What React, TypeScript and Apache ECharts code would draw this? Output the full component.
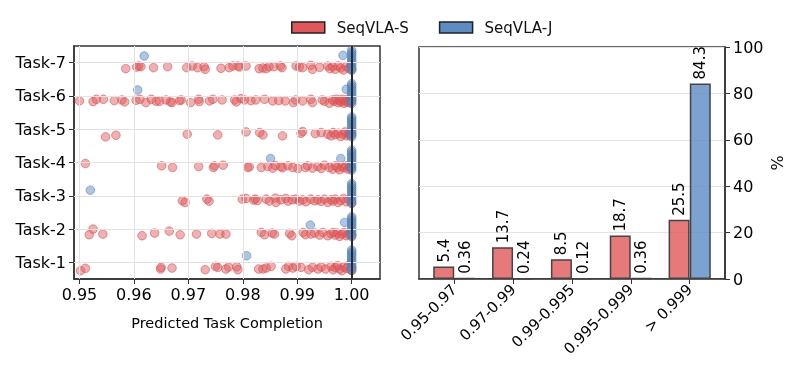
import React, { useEffect, useRef } from "react";
import * as echarts from "echarts";

const TASKS = ["Task-1", "Task-2", "Task-3", "Task-4", "Task-5", "Task-6", "Task-7"];
const X_TICKS = [0.95, 0.96, 0.97, 0.98, 0.99, 1.0];
const TASK_POS = [0, 1, 2, 3, 4, 5, 6];

// SeqVLA-S points per task: [predicted completion, vertical offset from task line]
const S_TASK1: [number, number][] = [[0.9502,-0.25],[0.9511,-0.18],[0.9649,-0.2],[0.965,-0.15],[0.967,-0.17],[0.9731,-0.22],[0.975,-0.12],[0.9754,-0.15],[0.9769,-0.2],[0.9774,-0.14],[0.9789,-0.13],[0.9791,-0.22],[0.9829,-0.2],[0.9837,-0.2],[0.9843,-0.17],[0.9852,-0.12],[0.9879,-0.2],[0.9884,-0.12],[0.9892,-0.17],[0.9898,-0.12],[0.9907,-0.15],[0.9921,-0.22],[0.9928,-0.15],[0.9938,-0.2],[0.9944,-0.14],[0.9952,-0.2],[0.9962,-0.12],[0.9966,-0.22],[0.997,-0.16],[0.9974,-0.1],[0.9978,-0.2],[0.9982,-0.25],[0.9986,-0.14],[0.999,-0.18],[0.9994,-0.1],[0.9998,-0.22],[1.0,-0.15],[1.0,-0.25]];
const S_TASK2: [number, number][] = [[0.9518,-0.17],[0.9525,0],[0.9543,-0.15],[0.9615,-0.2],[0.9638,-0.12],[0.9665,-0.06],[0.9685,-0.17],[0.9715,-0.15],[0.9743,-0.13],[0.9758,-0.15],[0.9769,-0.15],[0.9834,-0.1],[0.984,-0.17],[0.9854,-0.12],[0.9858,-0.15],[0.9886,-0.13],[0.989,-0.2],[0.9911,-0.1],[0.9915,-0.17],[0.9925,-0.15],[0.9932,-0.12],[0.9941,-0.18],[0.9947,-0.1],[0.9956,-0.2],[0.9962,-0.14],[0.9966,-0.1],[0.997,-0.18],[0.9974,-0.12],[0.9978,-0.22],[0.9982,-0.15],[0.9986,-0.1],[0.999,-0.2],[0.9994,-0.16],[0.9998,-0.12],[1.0,-0.2]];
const S_TASK3: [number, number][] = [[0.9689,-0.15],[0.9694,-0.2],[0.9734,-0.1],[0.9738,-0.16],[0.9799,-0.1],[0.9806,-0.08],[0.982,-0.13],[0.9823,-0.1],[0.9827,-0.14],[0.9843,-0.1],[0.9849,-0.16],[0.986,-0.07],[0.9861,-0.2],[0.987,-0.12],[0.9879,-0.08],[0.9883,-0.16],[0.9891,-0.12],[0.9898,-0.1],[0.9904,-0.16],[0.991,-0.12],[0.9916,-0.18],[0.9925,-0.1],[0.9932,-0.15],[0.9938,-0.12],[0.9944,-0.17],[0.995,-0.1],[0.9956,-0.2],[0.9962,-0.12],[0.9966,-0.16],[0.997,-0.1],[0.9975,-0.2],[0.998,-0.14],[0.9985,-0.08],[0.999,-0.18],[0.9995,-0.12],[1.0,-0.22]];
const S_TASK4: [number, number][] = [[0.9511,-0.03],[0.9651,-0.1],[0.9671,-0.15],[0.9719,-0.12],[0.9746,-0.15],[0.9748,-0.1],[0.9764,-0.08],[0.9809,-0.15],[0.9812,-0.13],[0.9834,-0.15],[0.9846,-0.12],[0.9855,-0.17],[0.986,-0.09],[0.987,-0.12],[0.9873,-0.16],[0.9883,-0.1],[0.9892,-0.15],[0.9901,-0.18],[0.9915,-0.15],[0.9919,-0.1],[0.9928,-0.17],[0.9938,-0.12],[0.9944,-0.18],[0.995,-0.08],[0.9959,-0.15],[0.9965,-0.2],[0.997,-0.1],[0.9974,-0.15],[0.9978,-0.22],[0.9982,-0.12],[0.9986,-0.16],[0.999,-0.1],[0.9993,-0.2],[0.9996,-0.13],[0.9999,-0.17]];
const S_TASK5: [number, number][] = [[0.9548,-0.23],[0.9567,-0.18],[0.9698,-0.15],[0.9754,-0.17],[0.9806,-0.08],[0.9831,-0.1],[0.9837,-0.17],[0.9873,-0.2],[0.9907,-0.12],[0.991,-0.07],[0.9933,-0.13],[0.9944,-0.1],[0.9956,-0.15],[0.9962,-0.2],[0.9966,-0.1],[0.997,-0.17],[0.9975,-0.12],[0.998,-0.22],[0.9984,-0.15],[0.9988,-0.08],[0.9991,-0.2],[0.9994,-0.13],[0.9996,-0.18],[0.9998,-0.1],[1.0,-0.16]];
const S_TASK6: [number, number][] = [[0.95,-0.15],[0.9525,-0.17],[0.9531,-0.1],[0.9544,-0.1],[0.9564,-0.14],[0.9578,-0.12],[0.9583,-0.18],[0.9604,-0.13],[0.9611,-0.1],[0.9622,-0.2],[0.9632,-0.1],[0.9641,-0.16],[0.9647,-0.16],[0.9659,-0.12],[0.9667,-0.18],[0.967,-0.2],[0.9684,-0.14],[0.9687,-0.12],[0.9704,-0.2],[0.9719,-0.1],[0.972,-0.17],[0.9739,-0.15],[0.9745,-0.1],[0.9762,-0.12],[0.9785,-0.12],[0.9788,-0.18],[0.9797,-0.08],[0.9803,-0.12],[0.9815,-0.14],[0.9824,-0.12],[0.984,-0.1],[0.9855,-0.15],[0.9866,-0.14],[0.9878,-0.15],[0.9893,-0.2],[0.9897,-0.12],[0.991,-0.15],[0.9925,-0.1],[0.9928,-0.2],[0.9946,-0.12],[0.995,-0.16],[0.9959,-0.22],[0.9965,-0.12],[0.9968,-0.16],[0.9972,-0.1],[0.9975,-0.2],[0.9978,-0.13],[0.998,-0.18],[0.9983,-0.1],[0.9986,-0.22],[0.9988,-0.14],[0.999,-0.18],[0.9993,-0.1],[0.9995,-0.2],[0.9997,-0.14],[0.9999,-0.18],[1.0,-0.12]];
const S_TASK7: [number, number][] = [[0.9585,-0.18],[0.9605,-0.13],[0.9609,-0.1],[0.9613,-0.12],[0.9636,-0.15],[0.9662,-0.12],[0.9697,-0.15],[0.9707,-0.1],[0.9717,-0.15],[0.9729,-0.12],[0.9731,-0.2],[0.976,-0.17],[0.9775,-0.15],[0.9782,-0.1],[0.9791,-0.1],[0.9794,-0.13],[0.9806,-0.1],[0.983,-0.18],[0.9837,-0.16],[0.9843,-0.18],[0.9848,-0.12],[0.9857,-0.12],[0.9869,-0.1],[0.9872,-0.15],[0.9898,-0.1],[0.9904,-0.13],[0.991,-0.15],[0.9925,-0.08],[0.9928,-0.2],[0.9941,-0.14],[0.9956,-0.1],[0.996,-0.18],[0.9965,-0.12],[0.997,-0.2],[0.9975,-0.1],[0.998,-0.16],[0.9985,-0.22],[0.999,-0.12],[0.9995,-0.18],[0.9998,-0.1],[1.0,-0.2]];
const S_POINTS = [S_TASK1, S_TASK2, S_TASK3, S_TASK4, S_TASK5, S_TASK6, S_TASK7];

// SeqVLA-J points away from 1.00: [completion, vertical offset]
const J_TASK1: [number, number][] = [[0.9807, 0.2]];
const J_TASK2: [number, number][] = [[0.9924, 0.12], [0.9987, 0.2]];
const J_TASK3: [number, number][] = [[0.952, 0.17]];
const J_TASK4: [number, number][] = [[0.9851, 0.12], [0.998, 0.12]];
const J_TASK5: [number, number][] = [];
const J_TASK6: [number, number][] = [[0.9607, 0.18], [0.999, 0.2]];
const J_TASK7: [number, number][] = [[0.9619, 0.2], [0.9984, 0.22]];
const J_POINTS = [J_TASK1, J_TASK2, J_TASK3, J_TASK4, J_TASK5, J_TASK6, J_TASK7];
// SeqVLA-J stack exactly at 1.00 (vertical offsets)
const J_AT_ONE_DY = [0.37, 0.31, 0.25, 0.19, 0.13, 0.07, 0.01, -0.05, -0.11, -0.17, -0.23];

// Right panel
const BINS = ["0.95-0.97", "0.97-0.99", "0.99-0.995", "0.995-0.999", "> 0.999"];
const PCT_S = [5.4, 13.7, 8.5, 18.7, 25.5];
const PCT_J = [0.36, 0.24, 0.12, 0.36, 84.3];
const BIN_POS = [0, 1, 2, 3, 4];

const RED = "#E15759";
const BLUE = "#5B8CC4";
const FONT = "DejaVu Sans";

export default function App() {
  const ref = useRef<HTMLDivElement>(null);
  useEffect(() => {
    if (!ref.current) return;
    const chart = echarts.init(ref.current, null, { renderer: "svg" });
    const sData: number[][] = [];
    S_POINTS.forEach((pts, ti) => pts.forEach(([x, dy]) => sData.push([x, ti + dy])));
    const jData: number[][] = [];
    J_POINTS.forEach((pts, ti) => {
      pts.forEach(([x, dy]) => jData.push([x, ti + dy]));
      J_AT_ONE_DY.forEach((dy) => jData.push([1.0, ti + dy]));
    });
    const grey = "#e3e3e3";
    const axisCol = "#333";
    const gridLine = (data: any[]) => ({
      type: "line",
      xAxisIndex: 0,
      yAxisIndex: 0,
      data: [],
      z: 0,
      silent: true,
      markLine: {
        silent: true,
        symbol: "none",
        label: { show: false },
        lineStyle: { color: grey, width: 1, type: "solid" },
        data,
      },
    });
    const barLabel = {
      show: true,
      position: "top",
      rotate: 90,
      align: "left",
      verticalAlign: "middle",
      distance: 4,
      fontSize: 15,
      color: "#000",
      formatter: (p: any) => String(p.value[1]),
    };
    const option: any = {
      animation: false,
      textStyle: { fontFamily: FONT },
      legend: {
        top: 15,
        left: 286,
        itemWidth: 33,
        itemHeight: 11,
        itemGap: 30,
        textStyle: { fontSize: 15, color: "#111", fontFamily: FONT, padding: [0, 0, 0, 7] },
        data: [
          { name: "SeqVLA-S", icon: "rect", itemStyle: { color: RED, opacity: 1, borderColor: "#222", borderWidth: 1.5 } },
          { name: "SeqVLA-J", icon: "rect", itemStyle: { color: BLUE, opacity: 1, borderColor: "#222", borderWidth: 1.5 } },
        ],
      },
      grid: [
        { left: 74, top: 46, width: 306, height: 233, show: true, borderColor: axisCol, borderWidth: 1.5, backgroundColor: "transparent" },
        { left: 419, top: 47, width: 306, height: 232, show: true, borderColor: axisCol, borderWidth: 1.5, backgroundColor: "transparent" },
      ],
      xAxis: [
        {
          gridIndex: 0,
          type: "value",
          min: 0.949,
          max: 1.0052,
          splitLine: { show: false },
          axisLine: { onZero: false, lineStyle: { color: axisCol, width: 1.5 } },
          axisTick: { customValues: X_TICKS, length: 5, lineStyle: { color: axisCol } },
          axisLabel: { customValues: X_TICKS, formatter: (v: number) => v.toFixed(2), fontSize: 16, color: "#000", margin: 7 },
          name: "Predicted Task Completion",
          nameLocation: "middle",
          nameGap: 36,
          nameTextStyle: { fontSize: 14.5, color: "#000" },
        },
        {
          gridIndex: 1,
          type: "value",
          min: -0.6,
          max: 4.6,
          splitLine: { show: false },
          axisLine: { onZero: false, lineStyle: { color: axisCol, width: 1.5 } },
          axisTick: { customValues: BIN_POS, length: 5, lineStyle: { color: axisCol } },
          axisLabel: {
            customValues: BIN_POS,
            formatter: (v: number) => BINS[Math.round(v)],
            rotate: 45,
            fontSize: 15,
            color: "#000",
            margin: 8,
          },
        },
      ],
      yAxis: [
        {
          gridIndex: 0,
          type: "value",
          min: -0.5,
          max: 6.5,
          splitLine: { show: false },
          axisLine: { onZero: false, lineStyle: { color: axisCol, width: 1.5 } },
          axisTick: { customValues: TASK_POS, length: 5, lineStyle: { color: axisCol } },
          axisLabel: { customValues: TASK_POS, formatter: (v: number) => TASKS[Math.round(v)], fontSize: 16, color: "#000", margin: 8 },
        },
        {
          gridIndex: 1,
          type: "value",
          position: "right",
          min: 0,
          max: 100,
          interval: 20,
          splitLine: { show: true, lineStyle: { color: grey, width: 1, type: "solid" } },
          axisLine: { show: true, onZero: false, lineStyle: { color: axisCol, width: 1.5 } },
          axisTick: { show: true, length: 5, lineStyle: { color: axisCol } },
          axisLabel: { fontSize: 16, color: "#000", margin: 8 },
          name: "%",
          nameLocation: "middle",
          nameGap: 44,
          nameRotate: 90,
          nameTextStyle: { fontSize: 16, color: "#000" },
        },
      ],
      series: [
        gridLine(X_TICKS.map((v) => ({ xAxis: v }))),
        gridLine(TASK_POS.map((v) => ({ yAxis: v }))),
        {
          name: "SeqVLA-S",
          type: "scatter",
          xAxisIndex: 0,
          yAxisIndex: 0,
          symbolSize: 8.5,
          z: 2,
          itemStyle: { color: "rgba(225,87,89,0.6)", borderColor: "rgba(215,80,82,0.75)", borderWidth: 1 },
          data: sData,
        },
        {
          name: "SeqVLA-J",
          type: "scatter",
          xAxisIndex: 0,
          yAxisIndex: 0,
          symbolSize: 8.5,
          z: 3,
          itemStyle: { color: "rgba(91,140,196,0.62)", borderColor: "rgba(80,125,180,0.7)", borderWidth: 1 },
          data: jData,
        },
        {
          type: "line",
          xAxisIndex: 0,
          yAxisIndex: 0,
          data: [],
          z: 5,
          silent: true,
          markLine: {
            silent: true,
            symbol: "none",
            label: { show: false },
            lineStyle: { color: "#2a2a2a", width: 2, type: "solid" },
            data: [{ xAxis: 1.0 }],
          },
        },
        {
          name: "SeqVLA-S",
          type: "bar",
          xAxisIndex: 1,
          yAxisIndex: 1,
          barWidth: 21,
          barGap: "-100%",
          itemStyle: { color: "rgba(225,87,89,0.8)", borderColor: "#444", borderWidth: 1.5 },
          label: barLabel,
          data: PCT_S.map((v, i) => [BIN_POS[i] - 0.18, v]),
        },
        {
          name: "SeqVLA-J",
          type: "bar",
          xAxisIndex: 1,
          yAxisIndex: 1,
          barWidth: 21,
          barGap: "-100%",
          itemStyle: { color: "rgba(91,140,196,0.8)", borderColor: "#444", borderWidth: 1.5 },
          label: barLabel,
          data: PCT_J.map((v, i) => [BIN_POS[i] + 0.18, v]),
        },
      ],
    };
    chart.setOption(option);
    return () => chart.dispose();
  }, []);
  return <div ref={ref} style={{ position: "fixed", left: 0, top: 0, width: 793, height: 366 }} />;
}
